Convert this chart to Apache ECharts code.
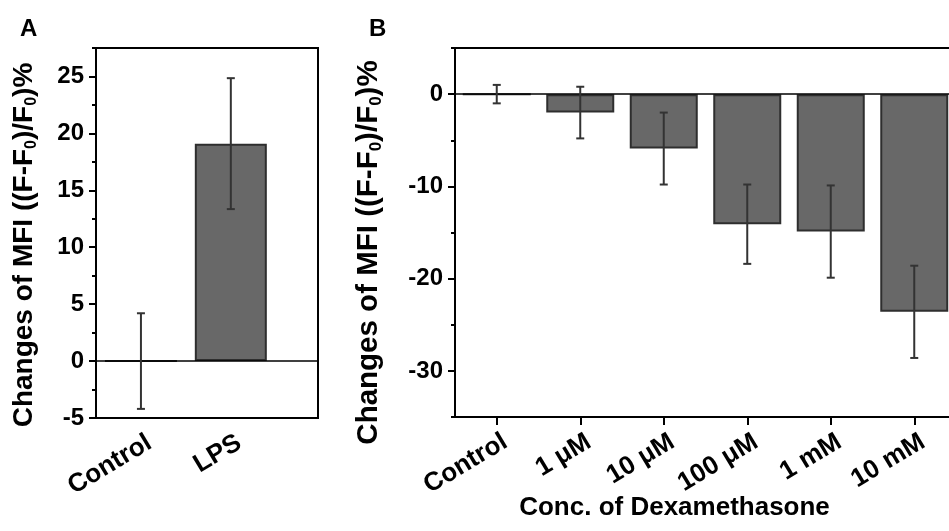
<!DOCTYPE html>
<html>
<head>
<meta charset="utf-8">
<script src="https://cdn.jsdelivr.net/npm/echarts@6/dist/echarts.min.js"></script>
<style>html,body{margin:0;padding:0;background:#fff}#c{width:949px;height:531px}</style>
</head>
<body>
<div id="c"></div>
<script>
// ---- data ----
const catA = ['Control', 'LPS'];
const posA = [1, 2];
const meanA = [0, 19.1];
const errA = [4.2, 5.75];
const yTicksA = [-5, 0, 5, 10, 15, 20, 25];
const yMinorA = [-2.5, 2.5, 7.5, 12.5, 17.5, 22.5, 27.5];

const catB = ['Control', '1 μM', '10 μM', '100 μM', '1 mM', '10 mM'];
const meanB = [0, -2, -5.9, -14.1, -14.9, -23.6];
const errB = [1, 2.8, 3.9, 4.3, 5, 5];
const yTicksB = [0, -10, -20, -30];
const yMinorB = [5, -5, -15, -25, -35];

const yTitle = '{m|Changes of MFI ((F-F}{s|0}{m|)/F}{s|0}{m|)%}';
const xTitleB = 'Conc. of Dexamethasone';

// ---- styles ----
const FF = '"Liberation Sans", Arial, sans-serif';
const BAR_FILL = '#686868';
const BAR_EDGE = '#2e2e2e';
const ERR = '#333333';

function richTitle(fs) {
  return {
    m: { fontSize: fs, fontWeight: 'bold', fontFamily: FF, color: '#000', lineHeight: fs + 2, verticalAlign: 'top' },
    s: { fontSize: Math.round(fs * 0.58), fontWeight: 'bold', fontFamily: FF, color: '#000', lineHeight: Math.round(fs * 0.58), padding: [Math.round(fs * 0.65), 0, 0, 0], verticalAlign: 'bottom' }
  };
}

function errRender(params, api) {
  const x = api.value(0), m = api.value(1), e = api.value(2);
  const top = api.coord([x, m + e]);
  const bot = api.coord([x, m - e]);
  const hw = 4;
  const st = { stroke: ERR, lineWidth: 2 };
  return {
    type: 'group',
    children: [
      { type: 'line', shape: { x1: top[0], y1: top[1], x2: bot[0], y2: bot[1] }, style: st },
      { type: 'line', shape: { x1: top[0] - hw, y1: top[1], x2: top[0] + hw, y2: top[1] }, style: st },
      { type: 'line', shape: { x1: bot[0] - hw, y1: bot[1], x2: bot[0] + hw, y2: bot[1] }, style: st }
    ]
  };
}

function yAxes(gridIndex, min, max, major, minor, nameGap, fs, shift) {
  return [
    {
      type: 'value', gridIndex, min, max, position: 'left',
      axisLine: { show: true, lineStyle: { color: '#000', width: 2 } },
      axisTick: { show: true, inside: false, length: 7, customValues: major, lineStyle: { color: '#000', width: 2 } },
      axisLabel: { show: true, customValues: major, margin: 12, fontSize: 24, fontWeight: 'bold', fontFamily: FF, color: '#000' },
      splitLine: { show: false },
      name: yTitle, nameLocation: 'middle', nameGap, nameMoveOverlap: false,
      nameTextStyle: { rich: richTitle(fs), padding: [0, shift, 0, 0] }
    },
    {
      type: 'value', gridIndex, min, max, position: 'left',
      axisLine: { show: false },
      axisTick: { show: true, inside: false, length: 4, customValues: minor, lineStyle: { color: '#000', width: 2 } },
      axisLabel: { show: false },
      splitLine: { show: false }
    }
  ];
}

const zeroLine = {
  silent: true, symbol: 'none', label: { show: false },
  lineStyle: { color: '#000', width: 1.5, type: 'solid' },
  data: [{ yAxis: 0 }]
};

const xLabelStyle = { rotate: 31, margin: 28, fontSize: 26, fontWeight: 'bold', fontFamily: FF, color: '#000', padding: [0, -10, 0, 0] };

const chart = echarts.init(document.getElementById('c'), null, { renderer: 'canvas' });
chart.setOption({
  animation: false,
  backgroundColor: '#fff',
  title: [
    { text: 'A', left: 20, top: 17, padding: 0, textStyle: { fontSize: 24, fontWeight: 'bold', fontFamily: FF, color: '#000' } },
    { text: 'B', left: 369, top: 17, padding: 0, textStyle: { fontSize: 24, fontWeight: 'bold', fontFamily: FF, color: '#000' } }
  ],
  grid: [
    { left: 96, top: 48, width: 222, height: 370, outerBoundsMode: 'none', containLabel: false, show: true, borderColor: '#000', borderWidth: 2, backgroundColor: 'transparent' },
    { left: 455, top: 48, width: 501, height: 369, outerBoundsMode: 'none', containLabel: false, show: true, borderColor: '#000', borderWidth: 2, backgroundColor: 'transparent' }
  ],
  xAxis: [
    {
      type: 'value', gridIndex: 0, min: 0.5, max: 2.97,
      axisLine: { show: true, onZero: false, lineStyle: { color: '#000', width: 2 } },
      axisTick: { show: false },
      splitLine: { show: false },
      axisLabel: Object.assign({ show: true, customValues: posA, formatter: v => catA[posA.indexOf(v)] || '' }, xLabelStyle)
    },
    {
      type: 'category', gridIndex: 1, data: catB, boundaryGap: true,
      axisLine: { show: true, onZero: false, lineStyle: { color: '#000', width: 2 } },
      axisTick: { show: true, alignWithLabel: true, length: 8, lineStyle: { color: '#000', width: 2 } },
      axisLabel: Object.assign({ interval: 0 }, xLabelStyle),
      name: xTitleB, nameLocation: 'middle', nameGap: 78, nameMoveOverlap: false,
      nameTextStyle: { fontSize: 26, fontWeight: 'bold', fontFamily: FF, color: '#000', padding: [0, 62, 0, 0] }
    }
  ],
  yAxis: [
    ...yAxes(0, -5, 27.5, yTicksA, yMinorA, 56, 28, 24),
    ...yAxes(1, -35, 5, yTicksB, yMinorB, 70, 29.5, 40)
  ],
  series: [
    {
      type: 'bar', xAxisIndex: 0, yAxisIndex: 0, barWidth: 72,
      data: posA.map((p, i) => [p, meanA[i]]),
      itemStyle: { color: BAR_FILL, borderColor: BAR_EDGE, borderWidth: 2 },
      markLine: zeroLine
    },
    {
      type: 'custom', xAxisIndex: 0, yAxisIndex: 0, renderItem: errRender, z: 5,
      data: posA.map((p, i) => [p, meanA[i], errA[i]])
    },
    {
      type: 'bar', xAxisIndex: 1, yAxisIndex: 2, barWidth: 68,
      data: meanB,
      itemStyle: { color: BAR_FILL, borderColor: BAR_EDGE, borderWidth: 2 },
      markLine: zeroLine
    },
    {
      type: 'custom', xAxisIndex: 1, yAxisIndex: 2, renderItem: errRender, z: 5,
      data: catB.map((c, i) => [i, meanB[i], errB[i]])
    }
  ]
});
</script>
</body>
</html>
